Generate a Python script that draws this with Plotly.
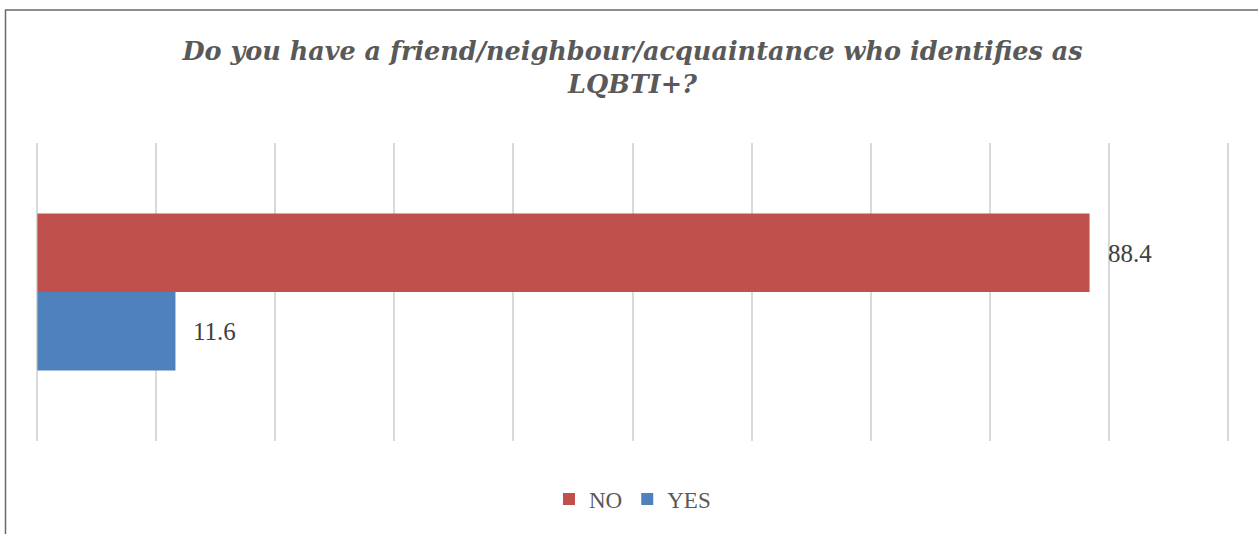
import plotly.graph_objects as go

categories = ["Q"]
series_names = ["NO", "YES"]
no_values = [88.4]
yes_values = [11.6]
colors = ["#C0504D", "#4F81BD"]
title_text = "Do you have a friend/neighbour/acquaintance who identifies as<br>LQBTI+?"

fig = go.Figure()
for name, vals, col in zip(series_names, [no_values, yes_values], colors):
    fig.add_trace(go.Bar(
        y=categories, x=vals, name=name, orientation="h",
        marker=dict(color=col, line=dict(width=0)),
        hoverinfo="x+name",
    ))

# value labels next to each bar end
bar_offset_px = 39
for i, vals in enumerate([no_values, yes_values]):
    for c, v in zip(categories, vals):
        fig.add_annotation(
            x=v, y=c, text=f"{v:.1f}", showarrow=False,
            xanchor="left", yanchor="middle", xshift=16,
            yshift=bar_offset_px if i == 0 else -bar_offset_px,
            font=dict(family="Liberation Serif", size=25, color="#404040"),
        )

L, R = 35, 28
fig.update_layout(
    width=1258, height=534,
    margin=dict(l=L, r=R, t=143, b=93),
    paper_bgcolor="white", plot_bgcolor="white",
    barmode="group", bargap=0.473, bargroupgap=0,
    title=dict(
        text=title_text, x=(37 + 1228) / 2 / 1258, xanchor="center",
        y=1 - 60 / 534, yanchor="middle",
        font=dict(family="DejaVu Serif", size=25.5, color="#595959", weight="bold", style="italic"),
    ),
    xaxis=dict(range=[-0.2, 100.2], tickvals=list(range(0, 101, 10)), showticklabels=False,
               showgrid=True, gridcolor="#D9D9D9", gridwidth=1.5, zeroline=False,
               showline=False, ticks=""),
    yaxis=dict(autorange="reversed", showticklabels=False, showgrid=False,
               zeroline=False, showline=False, ticks=""),
    legend=dict(orientation="h", x=0.5, xanchor="center", y=-0.195, yanchor="middle",
                font=dict(family="Liberation Serif", size=23, color="#595959"),
                itemwidth=30, bgcolor="rgba(0,0,0,0)"),
    showlegend=True,
    shapes=[dict(type="rect", xref="paper", yref="paper",
                 x0=(5.5 - L) / (1258 - L - R), x1=1.1, y0=-0.5, y1=(441 - 10) / 298,
                 line=dict(color="#6A6A6A", width=1.5), layer="above")],
)

fig.write_html("out.html", config={"displayModeBar": False},
               post_script="document.body.style.margin='0';")
